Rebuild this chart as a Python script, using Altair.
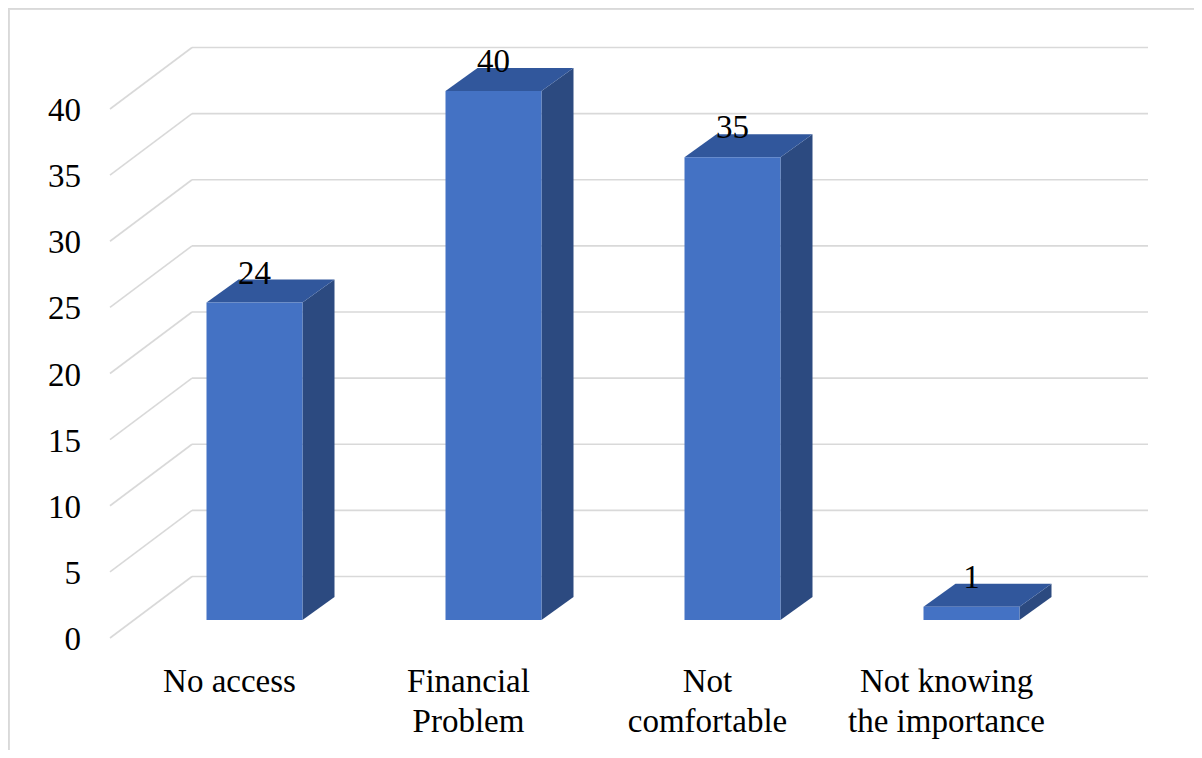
import altair as alt
import pandas as pd

# ---- data ----
categories = ["No access", "Financial\nProblem", "Not\ncomfortable", "Not knowing\nthe importance"]
values = [24, 40, 35, 1]
ticks = [0, 5, 10, 15, 20, 25, 30, 35, 40]

# ---- pseudo-3D geometry (pixel metrics converted to data units) ----
W, H = 1186, 742
P = 239.0      # px per category slot
Q = 13.225     # px per value unit
ox, oy = 102.0, 630.0          # floor-front origin inside the view
X_DOM = [-ox / P, (W - ox) / P]
Y_DOM = [-(H - oy) / Q, oy / Q]


def ddx(px):
    return px / P


def ddy(px):
    return px / Q


WALL = (82, 61.5)   # depth offset of back wall
BF = (25, 18)       # depth offset of bar front
BD = (32, 23)       # bar depth
BAR_W = 96 / P

xs = alt.Scale(domain=X_DOM, nice=False, zero=False)
ys = alt.Scale(domain=Y_DOM, nice=False, zero=False)
GRID = "#d9d9d9"
FONT = "Liberation Serif, Times New Roman, serif"
FS = 33

# back-wall gridlines and side-wall diagonals
grid_df = pd.DataFrame({
    "x0": [ddx(WALL[0])] * len(ticks),
    "x1": [len(categories) + ddx(WALL[0])] * len(ticks),
    "y": [t + ddy(WALL[1]) for t in ticks],
})
diag_df = pd.DataFrame({
    "x0": [0.0] * len(ticks),
    "x1": [ddx(WALL[0])] * len(ticks),
    "y0": [float(t) for t in ticks],
    "y1": [t + ddy(WALL[1]) for t in ticks],
})

front_rows, side_rows, top_rows, lab_rows = [], [], [], []
for i, (c, v) in enumerate(zip(categories, values)):
    xl = i + 0.5 + ddx(BF[0]) - BAR_W / 2
    xr = xl + BAR_W
    yb0 = ddy(BF[1])
    yb1 = ddy(BF[1] + BD[1])
    sx = ddx(BD[0])
    front_rows.append({"bar": i, "xl": xl, "xr": xr, "y0": yb0, "y1": v + yb0})
    side_rows.append({"bar": i, "x": xr, "lo": yb0, "hi": v + yb0})
    side_rows.append({"bar": i, "x": xr + sx, "lo": yb1, "hi": v + yb1})
    top_rows.append({"bar": i, "y": v + yb0, "xa": xl, "xb": xr})
    top_rows.append({"bar": i, "y": v + yb1, "xa": xl + sx, "xb": xr + sx})
    lab_rows.append({"x": i + 0.5 + ddx(BF[0]), "y": v + ddy(37), "t": str(v)})

front_df = pd.DataFrame(front_rows)
side_df = pd.DataFrame(side_rows)
top_df = pd.DataFrame(top_rows)
val_df = pd.DataFrame(lab_rows)
cat_df = pd.DataFrame({
    "x": [i + 0.5 for i in range(len(categories))],
    "y": [-ddy(54)] * len(categories),
    "t": categories,
})
tick_df = pd.DataFrame({
    "x": [-ddx(29)] * len(ticks),
    "y": [t - ddy(2) for t in ticks],
    "t": [str(t) for t in ticks],
})

grid = alt.Chart(grid_df).mark_rule(color=GRID, strokeWidth=1.6).encode(
    x=alt.X("x0:Q", scale=xs, axis=None), x2="x1:Q",
    y=alt.Y("y:Q", scale=ys, axis=None),
)
diag = alt.Chart(diag_df).mark_rule(color=GRID, strokeWidth=1.6).encode(
    x=alt.X("x0:Q", scale=xs, axis=None), x2="x1:Q",
    y=alt.Y("y0:Q", scale=ys, axis=None), y2="y1:Q",
)
side = alt.Chart(side_df).mark_area(orient="vertical", color="#2c4a80").encode(
    x=alt.X("x:Q", scale=xs, axis=None),
    y=alt.Y("lo:Q", scale=ys, axis=None, stack=False), y2="hi:Q",
    detail="bar:N",
)
top = alt.Chart(top_df).mark_area(orient="horizontal", color="#31579c").encode(
    y=alt.Y("y:Q", scale=ys, axis=None),
    x=alt.X("xa:Q", scale=xs, axis=None, stack=False), x2="xb:Q",
    detail="bar:N",
)
front = alt.Chart(front_df).mark_rect(color="#4472c4").encode(
    x=alt.X("xl:Q", scale=xs, axis=None), x2="xr:Q",
    y=alt.Y("y0:Q", scale=ys, axis=None), y2="y1:Q",
)
val_text = alt.Chart(val_df).mark_text(
    font=FONT, fontSize=FS, color="#000000", align="center", baseline="alphabetic"
).encode(
    x=alt.X("x:Q", scale=xs, axis=None), y=alt.Y("y:Q", scale=ys, axis=None), text="t:N"
)
cat_text = alt.Chart(cat_df).mark_text(
    font=FONT, fontSize=FS, color="#000000", align="center", baseline="alphabetic",
    lineBreak="\n", lineHeight=40,
).encode(
    x=alt.X("x:Q", scale=xs, axis=None), y=alt.Y("y:Q", scale=ys, axis=None), text="t:N"
)
tick_text = alt.Chart(tick_df).mark_text(
    font=FONT, fontSize=FS, color="#000000", align="right", baseline="middle"
).encode(
    x=alt.X("x:Q", scale=xs, axis=None), y=alt.Y("y:Q", scale=ys, axis=None), text="t:N"
)
border_l = alt.Chart(tick_df).mark_rule(color=GRID, strokeWidth=2.5).encode(
    x=alt.value(0), y=alt.value(0), y2=alt.value(H)
)
border_t = alt.Chart(tick_df).mark_rule(color=GRID, strokeWidth=2.5).encode(
    x=alt.value(0), x2=alt.value(W), y=alt.value(0)
)

chart = alt.layer(
    grid, diag, side, top, front, val_text, cat_text, tick_text, border_l, border_t
).properties(
    width=W, height=H, padding=0,
    autosize=alt.AutoSizeParams(type="none"),
    background="white",
).configure_view(strokeWidth=0)

chart.save("out.html", embed_options={"renderer": "svg", "actions": False})
